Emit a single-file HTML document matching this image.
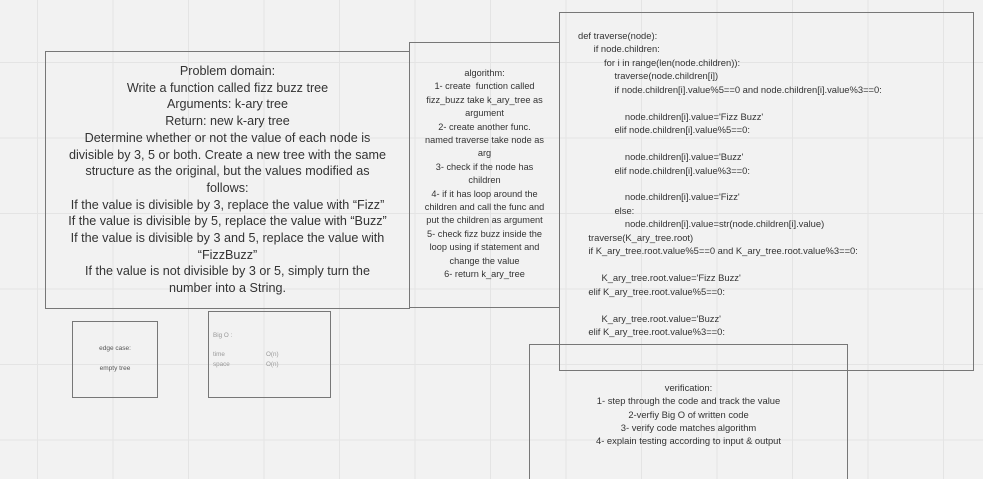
<!DOCTYPE html>
<html style="height:479px;overflow:hidden"><head><style>
body{margin:0;width:983px;height:479px;overflow:hidden;background:#f2f2f2;font-family:"Liberation Sans","DejaVu Sans",sans-serif;color:#333;position:relative;
background-image:linear-gradient(to right,#e4e4e4 1px,transparent 1px),linear-gradient(to bottom,#e4e4e4 1px,transparent 1px);
background-size:75.5px 75.5px;background-position:37px 62px;}
.b{position:absolute;border:1.3px solid #777;box-sizing:border-box;}
.t{position:absolute;text-align:center;white-space:nowrap;}
</style></head><body>
<div class="b" style="left:45px;top:51px;width:365px;height:258px"></div>
<div class="t" style="left:45px;top:63px;width:365px;font-size:12.6px;line-height:16.7px">Problem domain:<br>Write a function called fizz buzz tree<br>Arguments: k-ary tree<br>Return: new k-ary tree<br>Determine whether or not the value of each node is<br>divisible by 3, 5 or both. Create a new tree with the same<br>structure as the original, but the values modified as<br>follows:<br>If the value is divisible by 3, replace the value with “Fizz”<br>If the value is divisible by 5, replace the value with “Buzz”<br>If the value is divisible by 3 and 5, replace the value with<br>“FizzBuzz”<br>If the value is not divisible by 3 or 5, simply turn the<br>number into a String.</div>

<div class="b" style="left:409px;top:42px;width:151px;height:266px"></div>
<div class="t" style="left:409px;top:67px;width:151px;font-size:9.2px;line-height:13.4px">algorithm:<br>1- create &nbsp;function called<br>fizz_buzz take k_ary_tree as<br>argument<br>2- create another func.<br>named traverse take node as<br>arg<br>3- check if the node has<br>children<br>4- if it has loop around the<br>children and call the func and<br>put the children as argument<br>5- check fizz buzz inside the<br>loop using if statement and<br>change the value<br>6- return k_ary_tree</div>

<div class="b" style="left:559px;top:12px;width:415px;height:359px"></div>
<div class="t" style="left:578px;top:29px;text-align:left;font-size:9.4px;line-height:13.45px">def traverse(node):<br>&nbsp;&nbsp;&nbsp;&nbsp;&nbsp;&nbsp;if node.children:<br>&nbsp;&nbsp;&nbsp;&nbsp;&nbsp;&nbsp;&nbsp;&nbsp;&nbsp;&nbsp;for i in range(len(node.children)):<br>&nbsp;&nbsp;&nbsp;&nbsp;&nbsp;&nbsp;&nbsp;&nbsp;&nbsp;&nbsp;&nbsp;&nbsp;&nbsp;&nbsp;traverse(node.children[i])<br>&nbsp;&nbsp;&nbsp;&nbsp;&nbsp;&nbsp;&nbsp;&nbsp;&nbsp;&nbsp;&nbsp;&nbsp;&nbsp;&nbsp;if node.children[i].value%5==0 and node.children[i].value%3==0:<br><br>&nbsp;&nbsp;&nbsp;&nbsp;&nbsp;&nbsp;&nbsp;&nbsp;&nbsp;&nbsp;&nbsp;&nbsp;&nbsp;&nbsp;&nbsp;&nbsp;&nbsp;&nbsp;node.children[i].value='Fizz Buzz'<br>&nbsp;&nbsp;&nbsp;&nbsp;&nbsp;&nbsp;&nbsp;&nbsp;&nbsp;&nbsp;&nbsp;&nbsp;&nbsp;&nbsp;elif node.children[i].value%5==0:<br><br>&nbsp;&nbsp;&nbsp;&nbsp;&nbsp;&nbsp;&nbsp;&nbsp;&nbsp;&nbsp;&nbsp;&nbsp;&nbsp;&nbsp;&nbsp;&nbsp;&nbsp;&nbsp;node.children[i].value='Buzz'<br>&nbsp;&nbsp;&nbsp;&nbsp;&nbsp;&nbsp;&nbsp;&nbsp;&nbsp;&nbsp;&nbsp;&nbsp;&nbsp;&nbsp;elif node.children[i].value%3==0:<br><br>&nbsp;&nbsp;&nbsp;&nbsp;&nbsp;&nbsp;&nbsp;&nbsp;&nbsp;&nbsp;&nbsp;&nbsp;&nbsp;&nbsp;&nbsp;&nbsp;&nbsp;&nbsp;node.children[i].value='Fizz'<br>&nbsp;&nbsp;&nbsp;&nbsp;&nbsp;&nbsp;&nbsp;&nbsp;&nbsp;&nbsp;&nbsp;&nbsp;&nbsp;&nbsp;else:<br>&nbsp;&nbsp;&nbsp;&nbsp;&nbsp;&nbsp;&nbsp;&nbsp;&nbsp;&nbsp;&nbsp;&nbsp;&nbsp;&nbsp;&nbsp;&nbsp;&nbsp;&nbsp;node.children[i].value=str(node.children[i].value)<br>&nbsp;&nbsp;&nbsp;&nbsp;traverse(K_ary_tree.root)<br>&nbsp;&nbsp;&nbsp;&nbsp;if K_ary_tree.root.value%5==0 and K_ary_tree.root.value%3==0:<br><br>&nbsp;&nbsp;&nbsp;&nbsp;&nbsp;&nbsp;&nbsp;&nbsp;&nbsp;K_ary_tree.root.value='Fizz Buzz'<br>&nbsp;&nbsp;&nbsp;&nbsp;elif K_ary_tree.root.value%5==0:<br><br>&nbsp;&nbsp;&nbsp;&nbsp;&nbsp;&nbsp;&nbsp;&nbsp;&nbsp;K_ary_tree.root.value='Buzz'<br>&nbsp;&nbsp;&nbsp;&nbsp;elif K_ary_tree.root.value%3==0:</div>

<div class="b" style="left:529px;top:344px;width:319px;height:150px"></div>
<div class="t" style="left:529px;top:381px;width:319px;font-size:9.4px;line-height:13.3px">verification:<br>1- step through the code and track the value<br>2-verfiy Big O of written code<br>3- verify code matches algorithm<br>4- explain testing according to input &amp; output</div>

<div class="b" style="left:72px;top:321px;width:86px;height:77px"></div>
<div class="t" style="left:72px;top:344px;width:86px;font-size:6.5px;line-height:10px;color:#555">edge case:<br><br>empty tree</div>

<div class="b" style="left:208px;top:311px;width:123px;height:87px"></div>
<div class="t" style="left:213px;top:331px;text-align:left;font-size:6.3px;line-height:9.5px;color:#999">Big O :<br><br>time<span style="position:absolute;left:53px">O(n)</span><br>space<span style="position:absolute;left:53px">O(n)</span></div>
</body></html>
